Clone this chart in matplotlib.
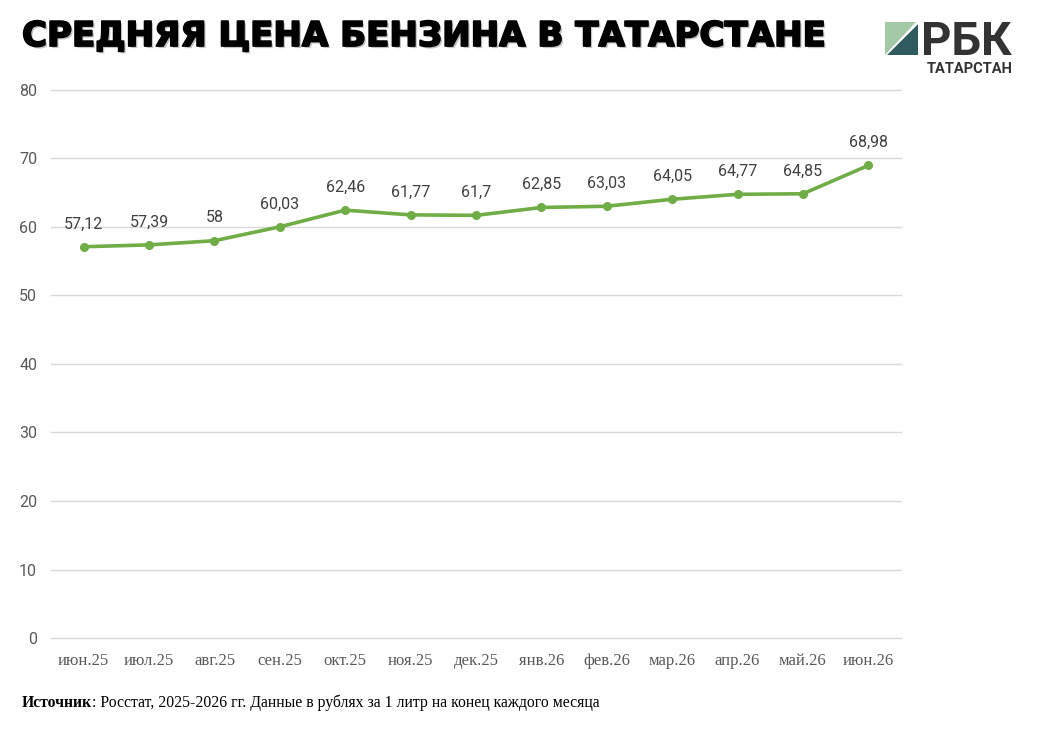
import matplotlib
matplotlib.use("Agg")
import matplotlib.pyplot as plt
import matplotlib.patheffects as pe
from matplotlib.patches import Polygon
import numpy as np

months = ["июн.25", "июл.25", "авг.25", "сен.25", "окт.25", "ноя.25", "дек.25",
          "янв.26", "фев.26", "мар.26", "апр.26", "май.26", "июн.26"]
prices = [57.12, 57.39, 58.00, 60.03, 62.46, 61.77, 61.70,
          62.85, 63.03, 64.05, 64.77, 64.85, 68.98]
labels = ["57,12", "57,39", "58", "60,03", "62,46", "61,77", "61,7",
          "62,85", "63,03", "64,05", "64,77", "64,85", "68,98"]
yticks = [0, 10, 20, 30, 40, 50, 60, 70, 80]

W, H = 1039, 732
fig = plt.figure(figsize=(W / 100, H / 100), dpi=100)
fig.patch.set_facecolor("white")

ax = fig.add_axes([51 / W, 1 - 638 / H, 850 / W, 548 / H])
x = np.arange(len(months))
ax.plot(x, prices, color="#70ad47", lw=2.6, marker="o", ms=5.5, zorder=3,
        solid_joinstyle="round")
for xi, v, s in zip(x, prices, labels):
    ax.annotate(s, (xi, v), xytext=(0, 11), textcoords="offset points",
                ha="center", va="bottom", fontsize=11.5, family="Roboto",
                color="#404040")

ax.set_xlim(-0.5, len(months) - 0.5)
ax.set_ylim(0, 80)
ax.set_yticks(yticks)
ax.set_xticks(x)
ax.set_xticklabels(months, family="Liberation Serif", fontsize=12, color="#595959")
for t in ax.get_yticklabels():
    t.set_family("Roboto")
    t.set_fontsize(11.5)
    t.set_color("#595959")
ax.tick_params(axis="y", length=0, pad=10)
ax.tick_params(axis="x", length=0, pad=11)
ax.grid(axis="y", color="#d9d9d9", lw=1)
for gl in ax.yaxis.get_gridlines():
    gl.set_clip_on(False)
ax.set_axisbelow(True)
for sp in ax.spines.values():
    sp.set_visible(False)

# title, sized to fill the same width as in the original
title = fig.text(22 / W, 1 - 46 / H, "СРЕДНЯЯ ЦЕНА БЕНЗИНА В ТАТАРСТАНЕ",
                 family="DejaVu Sans", fontweight="bold", fontsize=24,
                 color="black", va="baseline", ha="left")
r = fig.canvas.get_renderer()
tw = title.get_window_extent(r).width
title.set_fontsize(24 * 806 / tw)
title.set_path_effects([pe.withSimplePatchShadow(offset=(1.5, -1.5), shadow_rgbFace="#888888", alpha=0.5),
                        pe.Stroke(linewidth=1.3, foreground="black"), pe.Normal()])

# logo
lx0, lx1, ly0, ly1 = 885 / W, 918 / W, 1 - 55 / H, 1 - 22 / H
fig.patches.append(Polygon([(lx0, ly0), (lx0, ly1), (lx1 - 0.002, ly1)], closed=True,
                           transform=fig.transFigure, facecolor="#a3c9a6", edgecolor="none"))
fig.patches.append(Polygon([(lx0 + 0.002, ly0), (lx1, ly1 - 0.003), (lx1, ly0)], closed=True,
                           transform=fig.transFigure, facecolor="#2f5b5e", edgecolor="none"))
fig.text(921 / W, 1 - 55 / H, "РБК", family="Roboto", fontweight="bold",
         fontsize=34, color="#333333", va="baseline", ha="left")
fig.text(970 / W, 1 - 73 / H, "ТАТАРСТАН", family="Roboto", fontweight="bold",
         fontsize=10.5, color="#333333", va="baseline", ha="center")

# source
src = fig.text(22 / W, 1 - 707 / H, "Источник", family="Liberation Serif",
               fontweight="bold", fontsize=11.3, color="black", va="baseline")
ax.annotate(": Росстат, 2025-2026 гг. Данные в рублях за 1 литр на конец каждого месяца",
            xy=(1, 0), xycoords=src, va="bottom", ha="left",
            family="Liberation Serif", fontsize=11.3, color="black",
            annotation_clip=False)

fig.savefig("out.png", dpi=100, facecolor="white")
